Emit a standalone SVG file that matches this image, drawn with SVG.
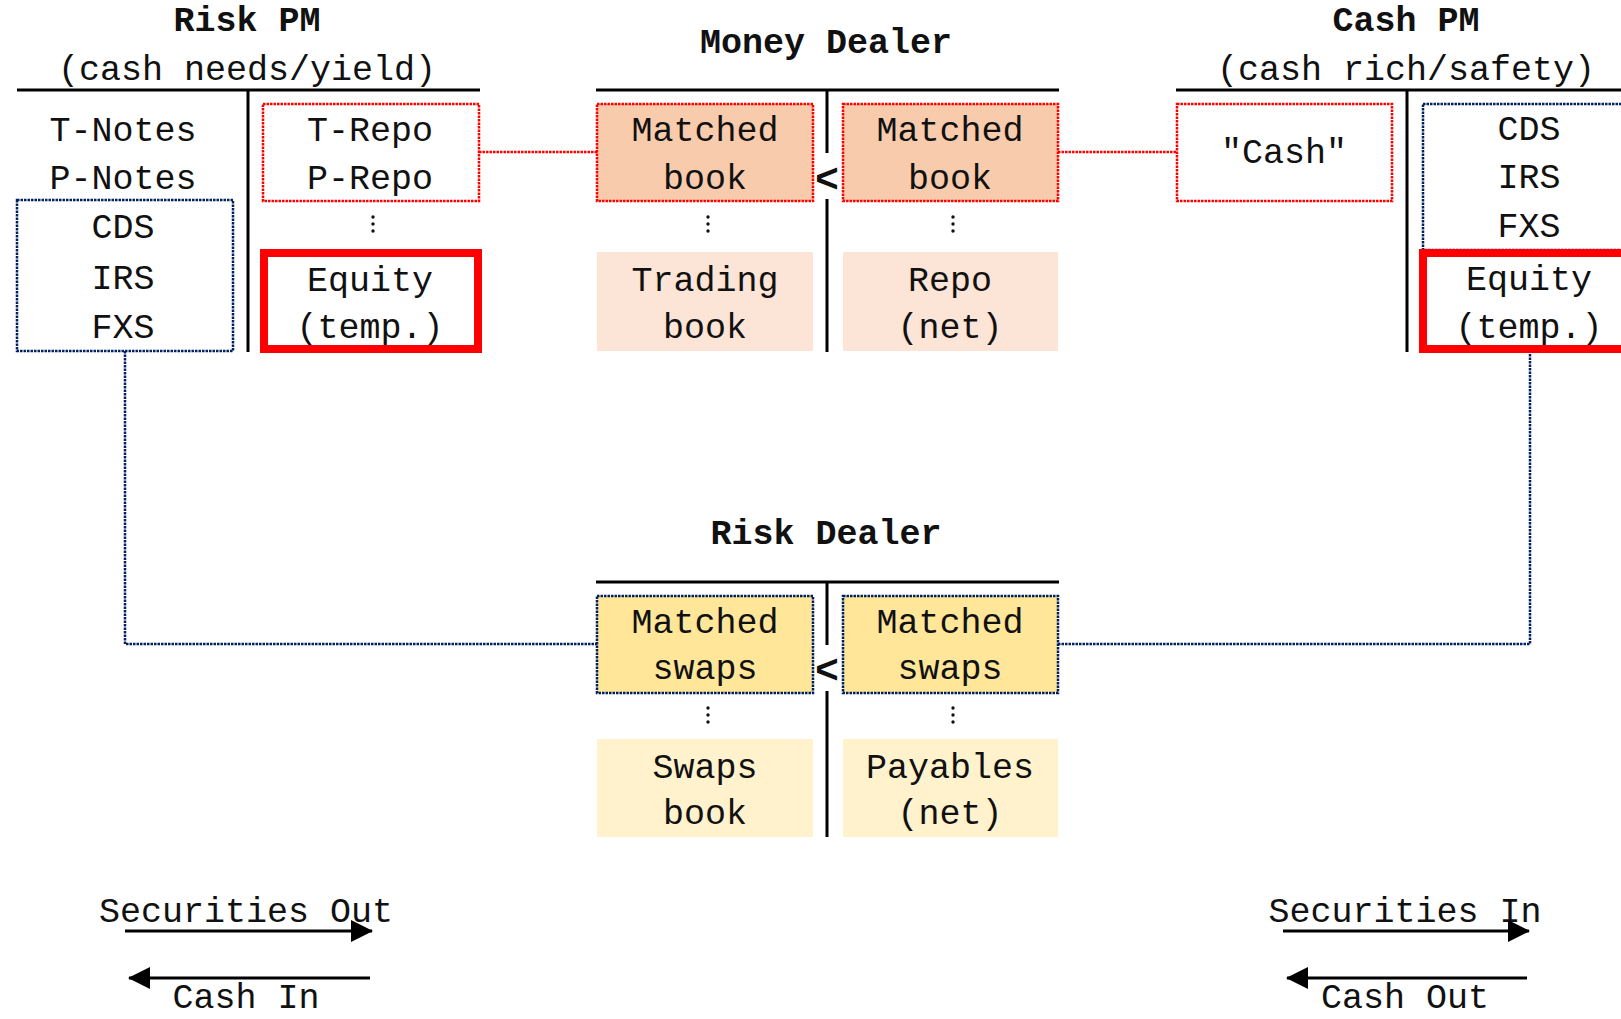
<svg xmlns="http://www.w3.org/2000/svg" width="1621" height="1019" viewBox="0 0 1621 1019">
  <style>
    text { font-family: "Courier New", "Liberation Mono", monospace; font-size: 35px; fill: #111; text-anchor: middle; }
    .title { font-weight: bold; }
    .rule { stroke: #000; stroke-width: 3; fill: none; }
    .redDot { fill: none; stroke: #ff0000; stroke-width: 2.5; stroke-dasharray: 2.5 1; }
    .navyDot { fill: none; stroke: #002060; stroke-width: 2.5; stroke-dasharray: 2.5 1; }
    .equity { fill: #fff; stroke: #ff0000; stroke-width: 8; }
    .mbook { fill: #f8cbad; }
    .tbook { fill: #fce4d6; }
    .mswap { fill: #ffe699; }
    .sbook { fill: #fff2cc; }
    .flow { stroke: #000; stroke-width: 3; fill: none; }
    .dot { fill: #111; }
    .lt { font-size: 40px; }
  </style>
  <defs>
    <marker id="head" viewBox="0 0 22 22" markerWidth="22" markerHeight="22" refX="21" refY="11" orient="auto" markerUnits="userSpaceOnUse">
      <path d="M0,0 L22,11 L0,22 Z" fill="#000"/>
    </marker>
  </defs>

  <rect width="1621" height="1019" fill="#fff"/>

  <!-- connectors -->
  <g id="connectors">
    <path class="redDot" d="M479,152 H597"/>
    <path class="redDot" d="M1058,152 H1177"/>
    <path class="navyDot" d="M125,351 V644 H597"/>
    <path class="navyDot" d="M1058,644 H1530 V353"/>
  </g>

  <!-- Risk PM balance sheet -->
  <g id="risk-pm">
    <text class="title" x="247" y="31">Risk PM</text>
    <text x="247" y="80">(cash needs/yield)</text>
    <path class="rule" d="M17,90 H480 M248,90 V352"/>
    <text x="123" y="141">T-Notes</text>
    <text x="123" y="189">P-Notes</text>
    <g id="risk-pm-swaps">
      <rect class="navyDot" x="17" y="200" width="216" height="151"/>
      <text x="123" y="238">CDS</text>
      <text x="123" y="289">IRS</text>
      <text x="123" y="338">FXS</text>
    </g>
    <g id="risk-pm-repo">
      <rect class="redDot" x="263" y="104" width="216" height="97"/>
      <text x="370" y="141">T-Repo</text>
      <text x="370" y="189">P-Repo</text>
    </g>
    <circle class="dot" cx="373" cy="217" r="1.7"/>
    <circle class="dot" cx="373" cy="224" r="1.7"/>
    <circle class="dot" cx="373" cy="231" r="1.7"/>
    <g id="risk-pm-equity">
      <rect class="equity" x="264" y="253" width="214" height="96"/>
      <text x="370" y="291">Equity</text>
      <text x="370" y="338">(temp.)</text>
    </g>
  </g>

  <!-- Money Dealer balance sheet -->
  <g id="money-dealer">
    <text class="title" x="826" y="53">Money Dealer</text>
    <path class="rule" d="M596,90 H1059 M827,90 V153 M827,199 V352"/>
    <g id="md-matched-left">
      <rect class="mbook" x="597" y="104" width="216" height="97"/>
      <rect class="redDot" x="597" y="104" width="216" height="97"/>
      <text x="705" y="141">Matched</text>
      <text x="705" y="189">book</text>
    </g>
    <g id="md-matched-right">
      <rect class="mbook" x="843" y="104" width="215" height="97"/>
      <rect class="redDot" x="843" y="104" width="215" height="97"/>
      <text x="950" y="141">Matched</text>
      <text x="950" y="189">book</text>
    </g>
    <text class="title lt" x="827" y="192">&lt;</text>
    <circle class="dot" cx="708" cy="217" r="1.7"/>
    <circle class="dot" cx="708" cy="224" r="1.7"/>
    <circle class="dot" cx="708" cy="231" r="1.7"/>
    <circle class="dot" cx="953" cy="217" r="1.7"/>
    <circle class="dot" cx="953" cy="224" r="1.7"/>
    <circle class="dot" cx="953" cy="231" r="1.7"/>
    <g id="md-trading">
      <rect class="tbook" x="597" y="252" width="216" height="99"/>
      <text x="705" y="291">Trading</text>
      <text x="705" y="338">book</text>
    </g>
    <g id="md-repo">
      <rect class="tbook" x="843" y="252" width="215" height="99"/>
      <text x="950" y="291">Repo</text>
      <text x="950" y="338">(net)</text>
    </g>
  </g>

  <!-- Cash PM balance sheet -->
  <g id="cash-pm">
    <text class="title" x="1406" y="31">Cash PM</text>
    <text x="1406" y="80">(cash rich/safety)</text>
    <path class="rule" d="M1176,90 H1621 M1407,90 V352"/>
    <g id="cash-pm-cash">
      <rect class="redDot" x="1177" y="104" width="215" height="97"/>
      <text x="1284" y="163">"Cash"</text>
    </g>
    <g id="cash-pm-swaps">
      <rect class="navyDot" x="1423" y="104" width="216" height="146"/>
      <text x="1529" y="140">CDS</text>
      <text x="1529" y="188">IRS</text>
      <text x="1529" y="237">FXS</text>
    </g>
    <g id="cash-pm-equity">
      <rect class="equity" x="1423" y="253" width="214" height="96"/>
      <text x="1529" y="290">Equity</text>
      <text x="1529" y="338">(temp.)</text>
    </g>
  </g>

  <!-- Risk Dealer balance sheet -->
  <g id="risk-dealer">
    <text class="title" x="826" y="544">Risk Dealer</text>
    <path class="rule" d="M596,582 H1059 M827,582 V645 M827,691 V837"/>
    <g id="rd-matched-left">
      <rect class="mswap" x="597" y="596" width="216" height="97"/>
      <rect class="navyDot" x="597" y="596" width="216" height="97"/>
      <text x="705" y="633">Matched</text>
      <text x="705" y="679">swaps</text>
    </g>
    <g id="rd-matched-right">
      <rect class="mswap" x="843" y="596" width="215" height="97"/>
      <rect class="navyDot" x="843" y="596" width="215" height="97"/>
      <text x="950" y="633">Matched</text>
      <text x="950" y="679">swaps</text>
    </g>
    <text class="title lt" x="827" y="683">&lt;</text>
    <circle class="dot" cx="708" cy="708" r="1.7"/>
    <circle class="dot" cx="708" cy="715" r="1.7"/>
    <circle class="dot" cx="708" cy="722" r="1.7"/>
    <circle class="dot" cx="953" cy="708" r="1.7"/>
    <circle class="dot" cx="953" cy="715" r="1.7"/>
    <circle class="dot" cx="953" cy="722" r="1.7"/>
    <g id="rd-swaps-book">
      <rect class="sbook" x="597" y="739" width="216" height="98"/>
      <text x="705" y="778">Swaps</text>
      <text x="705" y="824">book</text>
    </g>
    <g id="rd-payables">
      <rect class="sbook" x="843" y="739" width="215" height="98"/>
      <text x="950" y="778">Payables</text>
      <text x="950" y="824">(net)</text>
    </g>
  </g>

  <!-- flow legends -->
  <g id="legend-left">
    <text x="246" y="922">Securities Out</text>
    <path class="flow" d="M125,931 H372" marker-end="url(#head)"/>
    <path class="flow" d="M370,978 H129" marker-end="url(#head)"/>
    <text x="246" y="1008">Cash In</text>
  </g>
  <g id="legend-right">
    <text x="1405" y="922">Securities In</text>
    <path class="flow" d="M1283,931 H1529" marker-end="url(#head)"/>
    <path class="flow" d="M1527,978 H1287" marker-end="url(#head)"/>
    <text x="1405" y="1008">Cash Out</text>
  </g>
</svg>
